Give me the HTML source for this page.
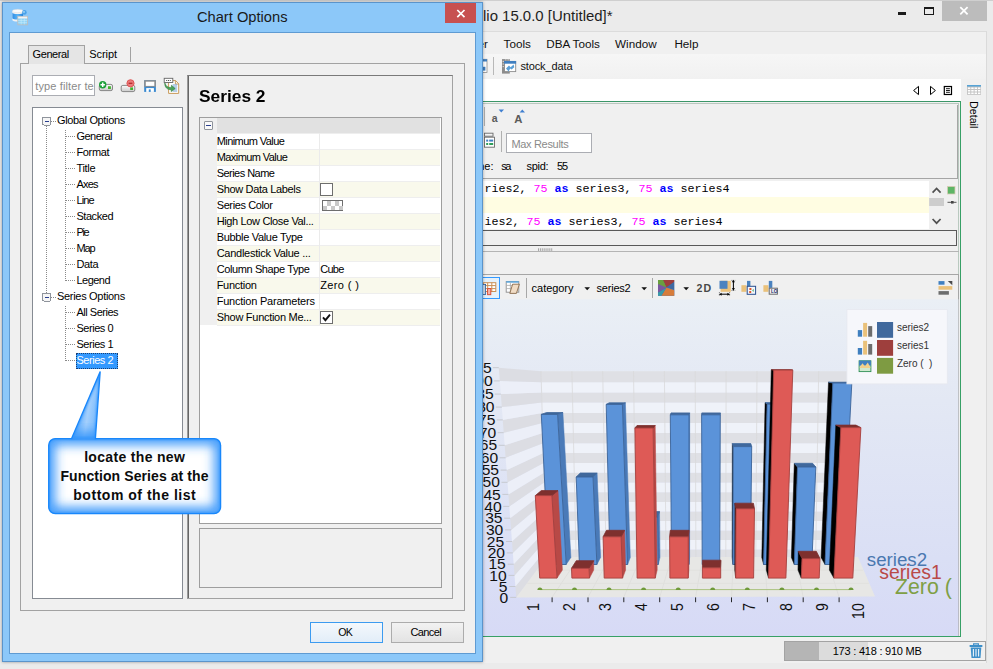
<!DOCTYPE html>
<html lang="en"><head><meta charset="utf-8"><title>Chart Options</title>
<style>
html,body{margin:0;padding:0;background:#ebebeb;}
body{width:993px;height:669px;overflow:hidden;position:relative;background:#ebebeb;font-family:"Liberation Sans",sans-serif;font-size:11px;}
div{position:absolute;box-sizing:border-box;}
svg{position:absolute;overflow:visible;}
.t{position:absolute;white-space:nowrap;line-height:1em;}
</style></head><body>
<!-- main application window -->
<div style="left:0px;top:0px;width:993px;height:669px;background:#ebebeb;"></div>
<div style="left:0px;top:0px;width:993px;height:1px;background:#cfcfcf;"></div>
<div style="left:483px;top:31px;width:503.5px;height:631.5px;background:#f0f0f0;border-top:1px solid #dcdcdc;border-right:1px solid #dadada;"></div>
<span class="t" style="left:483.00px;top:8.74px;font-size:14.95px;color:#1e1e1e;">lio 15.0.0 [Untitled]*</span>
<div style="left:942px;top:1.3px;width:44.7px;height:19.3px;background:#bcbcbc;"></div>
<svg style="left:942px;top:1px" width="45" height="20"><path d="M18.3 6.2 L25.6 13.4 M25.6 6.2 L18.3 13.4" stroke="#fff" stroke-width="1.8" fill="none"/></svg>
<div style="left:897.6px;top:12.4px;width:8.6px;height:2.3px;background:#1a1a1a;"></div>
<div style="left:924px;top:7.4px;width:10px;height:7.6px;border:1.2px solid #1a1a1a;border-top-width:2.6px;"></div>
<span class="t" style="left:477.50px;top:37.60px;font-size:11.7px;color:#111;">er</span>
<span class="t" style="left:503.60px;top:37.60px;font-size:11.7px;color:#111;">Tools</span>
<span class="t" style="left:546.20px;top:37.60px;font-size:11.7px;color:#111;">DBA Tools</span>
<span class="t" style="left:615.00px;top:37.60px;font-size:11.7px;color:#111;">Window</span>
<span class="t" style="left:674.40px;top:37.60px;font-size:11.7px;color:#111;">Help</span>
<div style="left:483px;top:54px;width:503px;height:25px;background:linear-gradient(#f6f6f6,#f1f1f1);"></div>
<svg style="left:476px;top:58px" width="12" height="16"><rect x="3" y="1.3" width="8" height="13.2" fill="#fff" stroke="#8d8d8d" stroke-width="0.8"/><rect x="3" y="1.2" width="8" height="2.3" fill="#3f7fc0"/><rect x="5" y="8.8" width="4.4" height="3.8" fill="#3f7fc0"/></svg>
<div style="left:493px;top:56.5px;width:1px;height:18.5px;background:#b8b8b8;"></div>
<svg style="left:501px;top:58px" width="17" height="17"><rect x="1" y="1.1" width="7.8" height="14.5" fill="#8c8c8c"/><path d="M1.6 3.4 H3 M1.6 6 H3 M1.6 8.6 H3" stroke="#d8d8d8" stroke-width="1"/><path d="M4 1.9 H4.9 M5.6 1.9 H6.5 M7.1 1.9 H8" stroke="#e0e0e0" stroke-width="0.9"/><rect x="3.5" y="3.4" width="11.2" height="10.2" fill="#fff" stroke="#8c8c8c" stroke-width="0.9"/><rect x="3.1" y="3" width="12" height="2.7" fill="#3f7fc0"/><path d="M5 10.6 L8 7.6 L9.6 9.2 L12.6 6.6 L13.3 9.2 L10.6 11.6 L9.2 10.4 L7.6 13.6 Z" fill="#5a9fd6"/></svg>
<span class="t" style="left:520.40px;top:60.69px;font-size:11px;color:#111;letter-spacing:-0.116px;">stock_data</span>
<div style="left:483px;top:79px;width:478px;height:22.5px;background:#fff;"></div>
<svg style="left:910px;top:84px" width="44" height="13"><path d="M8.5 2.4 V10.6 L3.6 6.5 Z" fill="#fff" stroke="#000" stroke-width="1"/><path d="M20.5 2.4 V10.6 L25.4 6.5 Z" fill="#fff" stroke="#000" stroke-width="1"/><rect x="34.3" y="2.5" width="7.2" height="8" fill="#fff" stroke="#000" stroke-width="1.2"/><path d="M36 4.7 H39.9 M36 6.5 H39.9 M36 8.3 H39.9" stroke="#000" stroke-width="0.9"/></svg>
<svg style="left:966px;top:84px" width="16" height="12"><rect x="1" y="1.1" width="14" height="9.7" fill="#c3c3c3"/><rect x="1" y="1.1" width="14" height="1.4" fill="#4a9fd8"/><rect x="1.90" y="3.50" width="2.4" height="1.5" fill="#fff"/><rect x="5.25" y="3.50" width="2.4" height="1.5" fill="#fff"/><rect x="8.60" y="3.50" width="2.4" height="1.5" fill="#fff"/><rect x="11.95" y="3.50" width="2.4" height="1.5" fill="#fff"/><rect x="1.90" y="6.00" width="2.4" height="1.5" fill="#fff"/><rect x="5.25" y="6.00" width="2.4" height="1.5" fill="#fff"/><rect x="8.60" y="6.00" width="2.4" height="1.5" fill="#fff"/><rect x="11.95" y="6.00" width="2.4" height="1.5" fill="#fff"/><rect x="1.90" y="8.50" width="2.4" height="1.5" fill="#fff"/><rect x="5.25" y="8.50" width="2.4" height="1.5" fill="#fff"/><rect x="8.60" y="8.50" width="2.4" height="1.5" fill="#fff"/><rect x="11.95" y="8.50" width="2.4" height="1.5" fill="#fff"/></svg>
<span class="t" style="left:979.2px;top:101.4px;font-size:10.7px;color:#000;transform-origin:0 0;transform:rotate(90deg);">Detail</span>
<div style="left:480px;top:101.3px;width:480.7px;height:536px;background:#f0f0f0;border:1.9px solid #3b9668;border-left:none;border-right:1.8px solid #37a066;border-bottom:1.8px solid #37a066;"></div>
<div style="left:480px;top:103.2px;width:478.5px;height:0.8px;background:#b9c8bf;"></div>
<div style="left:957.6px;top:103px;width:1px;height:533px;background:#b9c9bf;"></div>
<div style="left:484.3px;top:107px;width:1px;height:19px;background:#b0b0b0;"></div>
<span class="t" style="left:491.80px;top:112.71px;font-size:10.5px;color:#5a5a5a;font-weight:bold;">a</span>
<svg style="left:498px;top:109px" width="8" height="5"><path d="M0.6 0.6 L6 0.6 L3.3 3.6 Z" fill="#3f7fd0"/></svg>
<span class="t" style="left:514.20px;top:114.03px;font-size:11.3px;color:#5a5a5a;font-weight:bold;">A</span>
<svg style="left:519px;top:109px" width="8" height="5"><path d="M0.6 3.6 L6 3.6 L3.3 0.4 Z" fill="#3f7fd0"/></svg>
<svg style="left:476px;top:132px" width="20" height="17"><rect x="8.5" y="1.2" width="8.5" height="3" fill="#f4f4f4" stroke="#6a6a6a" stroke-width="0.9"/><rect x="8.5" y="5.2" width="10" height="10" fill="#fff" stroke="#6a6a6a" stroke-width="0.9"/><rect x="10.2" y="7.6" width="2" height="2" fill="#3f7fc0"/><rect x="13.2" y="7.6" width="4" height="2" fill="#3f7fc0"/><rect x="10.2" y="11" width="2" height="2" fill="#2e9d5a"/><rect x="13.2" y="11" width="4" height="2" fill="#2e9d5a"/></svg>
<div style="left:501px;top:131px;width:1px;height:21px;background:#b0b0b0;"></div>
<div style="left:506px;top:133px;width:86px;height:20px;background:#fff;border:1px solid #abadb3;"></div>
<span class="t" style="left:511.40px;top:139.29px;font-size:11px;color:#8a8a8a;letter-spacing:-0.31px;">Max Results</span>
<span class="t" style="left:478.30px;top:160.99px;font-size:11px;color:#000;letter-spacing:-0.045px;">ne:</span>
<span class="t" style="left:501.30px;top:160.99px;font-size:11px;color:#000;letter-spacing:-1.46px;">sa</span>
<span class="t" style="left:526.40px;top:160.99px;font-size:11px;color:#000;letter-spacing:-0.253px;">spid:</span>
<span class="t" style="left:557.00px;top:160.99px;font-size:11px;color:#000;letter-spacing:-1.01px;">55</span>
<div style="left:470px;top:105px;width:487.8px;height:74px;border:1px solid #a5a5a5;border-left:none;border-top:none;"></div>
<div style="left:483px;top:179px;width:474.5px;height:51.5px;background:#f0f0f0;"></div>
<div style="left:483px;top:180.7px;width:446px;height:48.6px;background:#fff;"></div>
<div style="left:483px;top:197px;width:445.6px;height:16px;background:#fffde2;"></div>
<span class="t" style="left:484.40px;top:184.04px;font-size:11.68px;color:#000;font-family:'Liberation Mono', monospace;">ries2,&nbsp;<span style="color:#ff00ff">75</span>&nbsp;<b style="color:#0000ff">as</b>&nbsp;series3,&nbsp;<span style="color:#ff00ff">75</span>&nbsp;<b style="color:#0000ff">as</b>&nbsp;series4</span>
<span class="t" style="left:484.40px;top:216.84px;font-size:11.68px;color:#000;font-family:'Liberation Mono', monospace;">ies2,&nbsp;<span style="color:#ff00ff">75</span>&nbsp;<b style="color:#0000ff">as</b>&nbsp;series3,&nbsp;<span style="color:#ff00ff">75</span>&nbsp;<b style="color:#0000ff">as</b>&nbsp;series4</span>
<svg style="left:929px;top:181px" width="30" height="48"><path d="M3.6 11.6 L7.6 7.4 L11.6 11.6" stroke="#505050" stroke-width="1.7" fill="none"/><path d="M3.6 38 L7.6 42.2 L11.6 38" stroke="#505050" stroke-width="1.7" fill="none"/><rect x="0.2" y="17" width="14.8" height="8" fill="#cdcdcd"/><rect x="18.4" y="5.4" width="7.6" height="7.6" fill="#5db565" stroke="#d9cdb8" stroke-width="0.8"/><path d="M18.5 21.3 H27.5" stroke="#444" stroke-width="0.9"/><rect x="22" y="20" width="2.6" height="2.6" fill="#444"/></svg>
<div style="left:470px;top:230px;width:486.8px;height:16px;border:1.4px solid #5a5a5a;border-left:none;"></div>
<div style="left:483px;top:251px;width:476px;height:1px;background:#b4b4b4;"></div>
<svg style="left:538px;top:248px" width="16" height="3"><rect x="0.0" y="0.3" width="0.9" height="2.6" fill="#9a9a9a"/><rect x="1.9" y="0.3" width="0.9" height="2.6" fill="#9a9a9a"/><rect x="3.8" y="0.3" width="0.9" height="2.6" fill="#9a9a9a"/><rect x="5.7" y="0.3" width="0.9" height="2.6" fill="#9a9a9a"/><rect x="7.6" y="0.3" width="0.9" height="2.6" fill="#9a9a9a"/><rect x="9.5" y="0.3" width="0.9" height="2.6" fill="#9a9a9a"/><rect x="11.4" y="0.3" width="0.9" height="2.6" fill="#9a9a9a"/><rect x="13.3" y="0.3" width="0.9" height="2.6" fill="#9a9a9a"/></svg>
<div style="left:470px;top:274px;width:489px;height:362px;border:1px solid #a6a6a6;border-left:none;border-bottom:none;background:#f0f0f0;"></div>
<div style="left:478px;top:277px;width:22px;height:22px;background:#e5f1fb;border:1px solid #3399ff;"></div>
<svg style="left:478px;top:278px" width="22" height="20"><rect x="5.6" y="4.7" width="12.2" height="8.8" fill="#fff" stroke="#c98f55" stroke-width="1"/><path d="M5.6 7.6 H17.8 M5.6 10.6 H17.8 M9.7 4.7 V13.5 M13.8 4.7 V13.5" stroke="#c98f55" stroke-width="1"/><rect x="4" y="6.5" width="3.6" height="10" fill="#c9d9ea" stroke="#2a5f9f" stroke-width="0.8"/><rect x="9.6" y="10.6" width="3.2" height="6.1" fill="#f6b5aa" stroke="#d9452f" stroke-width="0.9"/></svg>
<svg style="left:505px;top:280px" width="16" height="16"><rect x="1.2" y="1.6" width="12.6" height="10.6" fill="#fff" stroke="#8c8c8c" stroke-width="0.9"/><rect x="1.2" y="1.2" width="12.6" height="1.5" fill="#5aa7de"/><path d="M1.2 5.4 H8 M1.2 8.6 H7 M5.4 2.6 V12" stroke="#a9a9a9" stroke-width="0.8"/><path d="M7.6 4.2 L14.4 4.2 L11.4 13.4 L4.8 13.4 Z" fill="#f1dcc4" stroke="#8a6a48" stroke-width="0.9"/></svg>
<div style="left:526px;top:278px;width:1px;height:20px;background:#a8a8a8;"></div>
<span class="t" style="left:531.60px;top:283.09px;font-size:11px;color:#000;letter-spacing:-0.041px;">category</span>
<svg style="left:584px;top:287px" width="7" height="4"><path d="M0.4 0.3 H6 L3.2 3.2 Z" fill="#111"/></svg>
<span class="t" style="left:596.50px;top:283.09px;font-size:11px;color:#000;letter-spacing:-0.212px;">series2</span>
<svg style="left:640.5px;top:287px" width="7" height="4"><path d="M0.4 0.3 H6 L3.2 3.2 Z" fill="#111"/></svg>
<div style="left:652px;top:278px;width:1px;height:20px;background:#a8a8a8;"></div>
<svg style="left:657.8px;top:280px" width="17" height="16"><rect x="0" y="0" width="16.2" height="15.8" fill="#3f6aa3"/><path d="M0 0 H5 L8.4 7.6 Z" fill="#6a9f3e"/><path d="M5 0 H16.2 V2 L8.4 7.6 Z" fill="#9e3e3c"/><path d="M16.2 2 V10 L8.4 7.6 Z" fill="#3f6aa3"/><path d="M16.2 10 V15.8 L8.4 7.6 Z" fill="#4a86c8"/><path d="M16.2 10.2 V15.8 H3.4 L8.4 7.6 Z" fill="#d77c3a"/><path d="M3.4 15.8 H0 V12.6 L8.4 7.6 Z" fill="#3a9aa8"/><path d="M0 12.6 V0 L8.4 7.6 Z" fill="#7a57a0"/><path d="M0 0 H5 L8.4 7.6 L0 4 Z" fill="#6a9f3e"/></svg>
<svg style="left:683.4px;top:287px" width="7" height="4"><path d="M0.4 0.3 H6 L3.2 3.2 Z" fill="#111"/></svg>
<span class="t" style="left:696.60px;top:282.93px;font-size:10.6px;color:#484848;font-weight:bold;letter-spacing:0.9px;">2D</span>
<svg style="left:718.5px;top:280px" width="17" height="17"><rect x="1.6" y="0.8" width="10.2" height="11" fill="#eac17a"/><rect x="0.5" y="0.8" width="8" height="8" fill="#4a82bf"/><path d="M14.4 1.2 V9.4" stroke="#000" stroke-width="1"/><path d="M14.4 0 L16 2.3 H12.8 Z M14.4 10.6 L16 8.3 H12.8 Z" fill="#000"/><path d="M12.6 0.4 H16.2 M12.6 10.4 H16.2" stroke="#000" stroke-width="0.7" stroke-dasharray="0.8 0.8"/><path d="M1.6 14.2 H9.4" stroke="#000" stroke-width="1"/><path d="M0.2 14.2 L2.6 12.7 V15.7 Z M10.8 14.2 L8.4 12.7 V15.7 Z" fill="#000"/><path d="M0.4 12.4 V16 M10.6 12.4 V16" stroke="#000" stroke-width="0.7" stroke-dasharray="0.8 0.8"/></svg>
<svg style="left:740.5px;top:280px" width="16" height="16"><rect x="0.4" y="5.2" width="5" height="6.6" fill="#eac17a"/><rect x="6" y="0.9" width="3.4" height="5.5" fill="#4a82bf"/><rect x="6.2" y="6.3" width="8.4" height="8" fill="#f4f6fb" stroke="#2a4f8f" stroke-width="1"/><rect x="8.4" y="8" width="2" height="2" fill="#e2582c"/><rect x="8.2" y="11" width="2" height="2" fill="#e2582c"/><path d="M13 8.8 V12 L10.8 10.4 Z" fill="#7cc79a"/></svg>
<svg style="left:762.5px;top:280px" width="16" height="16"><rect x="0.4" y="5.2" width="5" height="6.6" fill="#eac17a"/><rect x="5.8" y="0.9" width="3.5" height="7" fill="#4a82bf"/><rect x="6.2" y="8.2" width="8.2" height="6" fill="#eef1f6" stroke="#6b6b6b" stroke-width="1"/><text x="7.9" y="13.1" font-family="Liberation Sans, sans-serif" font-size="4.6" font-weight="bold" fill="#1a2f66">LO</text></svg>
<svg style="left:937.5px;top:280px" width="16" height="16"><rect x="0.5" y="1.1" width="6" height="3.6" fill="#3f7fc0"/><rect x="0.5" y="6.1" width="13.8" height="3.6" fill="#eac17a"/><rect x="0.5" y="11.1" width="10.4" height="3.6" fill="#6d6d6d"/><path d="M9.8 1.1 H14.3 V5.2 Z" fill="#4a4a4a"/></svg>
<svg style="left:0;top:0" width="993" height="669" viewBox="0 0 993 669"><defs><linearGradient id="chbg" x1="0" y1="0" x2="0" y2="1"><stop offset="0" stop-color="#eaeff5"/><stop offset="0.3" stop-color="#e3e8f4"/><stop offset="0.77" stop-color="#dadff5"/><stop offset="1" stop-color="#d7daf6"/></linearGradient><clipPath id="chclip"><rect x="470" y="299.3" width="488.4" height="336.6"/></clipPath></defs><g clip-path="url(#chclip)"><rect x="470" y="299" width="489" height="337" fill="url(#chbg)"/><polygon points="546.3,559.0 845.5,559.0 845.7,549.5 546.0,549.5" fill="#dfe0e5"/><polygon points="516.2,597.4 546.3,559.0 546.0,549.5 515.4,586.5" fill="#dcdde3"/><polygon points="546.0,549.5 845.7,549.5 845.9,540.0 545.7,540.0" fill="#eff2f9"/><polygon points="515.4,586.5 546.0,549.5 545.7,540.0 514.5,575.4" fill="#eceff8"/><polygon points="545.7,540.0 845.9,540.0 846.1,530.5 545.5,530.5" fill="#dfe0e5"/><polygon points="514.5,575.4 545.7,540.0 545.5,530.5 513.7,564.2" fill="#dcdde3"/><polygon points="545.5,530.5 846.1,530.5 846.3,521.0 545.2,521.0" fill="#eff2f9"/><polygon points="513.7,564.2 545.5,530.5 545.2,521.0 512.8,552.9" fill="#eceff8"/><polygon points="545.2,521.0 846.3,521.0 846.5,511.4 544.9,511.4" fill="#dfe0e5"/><polygon points="512.8,552.9 545.2,521.0 544.9,511.4 512.0,541.5" fill="#dcdde3"/><polygon points="544.9,511.4 846.5,511.4 846.7,501.9 544.7,501.9" fill="#eff2f9"/><polygon points="512.0,541.5 544.9,511.4 544.7,501.9 511.1,529.9" fill="#eceff8"/><polygon points="544.7,501.9 846.7,501.9 846.9,492.2 544.4,492.2" fill="#dfe0e5"/><polygon points="511.1,529.9 544.7,501.9 544.4,492.2 510.2,518.2" fill="#dcdde3"/><polygon points="544.4,492.2 846.9,492.2 847.1,482.5 544.1,482.5" fill="#eff2f9"/><polygon points="510.2,518.2 544.4,492.2 544.1,482.5 509.3,506.4" fill="#eceff8"/><polygon points="544.1,482.5 847.1,482.5 847.3,472.8 543.9,472.8" fill="#dfe0e5"/><polygon points="509.3,506.4 544.1,482.5 543.9,472.8 508.4,494.4" fill="#dcdde3"/><polygon points="543.9,472.8 847.3,472.8 847.6,463.0 543.6,463.0" fill="#eff2f9"/><polygon points="508.4,494.4 543.9,472.8 543.6,463.0 507.5,482.3" fill="#eceff8"/><polygon points="543.6,463.0 847.6,463.0 847.8,452.9 543.3,452.9" fill="#dfe0e5"/><polygon points="507.5,482.3 543.6,463.0 543.3,452.9 506.6,470.1" fill="#dcdde3"/><polygon points="543.3,452.9 847.8,452.9 848.0,443.2 543.0,443.2" fill="#eff2f9"/><polygon points="506.6,470.1 543.3,452.9 543.0,443.2 505.6,457.8" fill="#eceff8"/><polygon points="543.0,443.2 848.0,443.2 848.2,433.1 542.7,433.1" fill="#dfe0e5"/><polygon points="505.6,457.8 543.0,443.2 542.7,433.1 504.7,445.3" fill="#dcdde3"/><polygon points="542.7,433.1 848.2,433.1 848.4,423.0 542.5,423.0" fill="#eff2f9"/><polygon points="504.7,445.3 542.7,433.1 542.5,423.0 503.7,432.7" fill="#eceff8"/><polygon points="542.5,423.0 848.4,423.0 848.6,412.9 542.2,412.9" fill="#dfe0e5"/><polygon points="503.7,432.7 542.5,423.0 542.2,412.9 502.8,419.9" fill="#dcdde3"/><polygon points="542.2,412.9 848.6,412.9 848.8,402.6 541.9,402.6" fill="#eff2f9"/><polygon points="502.8,419.9 542.2,412.9 541.9,402.6 501.8,407.1" fill="#eceff8"/><polygon points="541.9,402.6 848.8,402.6 849.0,392.5 541.6,392.5" fill="#dfe0e5"/><polygon points="501.8,407.1 541.9,402.6 541.6,392.5 500.8,394.1" fill="#dcdde3"/><polygon points="541.6,392.5 849.0,392.5 849.3,382.3 541.3,382.3" fill="#eff2f9"/><polygon points="500.8,394.1 541.6,392.5 541.3,382.3 499.8,380.9" fill="#eceff8"/><polygon points="541.3,382.3 849.3,382.3 849.5,371.2 541.0,371.2" fill="#dfe0e5"/><polygon points="499.8,380.9 541.3,382.3 541.0,371.2 498.8,367.7" fill="#dcdde3"/><path d="M541.0 371.2 L546.3 559" stroke="#d9d9da" stroke-width="0.8" fill="none"/><path d="M571.9 371.2 L576.2 559" stroke="#d9d9da" stroke-width="0.8" fill="none"/><path d="M602.7 371.2 L606.1 559" stroke="#d9d9da" stroke-width="0.8" fill="none"/><path d="M633.5 371.2 L636.1 559" stroke="#d9d9da" stroke-width="0.8" fill="none"/><path d="M664.4 371.2 L666.0 559" stroke="#d9d9da" stroke-width="0.8" fill="none"/><path d="M695.2 371.2 L695.9 559" stroke="#d9d9da" stroke-width="0.8" fill="none"/><path d="M726.1 371.2 L725.8 559" stroke="#d9d9da" stroke-width="0.8" fill="none"/><path d="M757.0 371.2 L755.8 559" stroke="#d9d9da" stroke-width="0.8" fill="none"/><path d="M787.8 371.2 L785.7 559" stroke="#d9d9da" stroke-width="0.8" fill="none"/><path d="M818.7 371.2 L815.6 559" stroke="#d9d9da" stroke-width="0.8" fill="none"/><path d="M849.5 371.2 L845.5 559" stroke="#d9d9da" stroke-width="0.8" fill="none"/><polygon points="516.2,597.4 546.6,557.0 858.0,557.0 875.0,596.6" fill="#e7e7e5"/><path d="M552.1 597.2 L577.7 558.8" stroke="#dddddb" stroke-width="0.8"/><path d="M588.0 597.2 L608.9 558.8" stroke="#dddddb" stroke-width="0.8"/><path d="M623.8 597.2 L640.0 558.8" stroke="#dddddb" stroke-width="0.8"/><path d="M659.7 597.2 L671.2 558.8" stroke="#dddddb" stroke-width="0.8"/><path d="M695.6 597.2 L702.3 558.8" stroke="#dddddb" stroke-width="0.8"/><path d="M731.5 597.2 L733.4 558.8" stroke="#dddddb" stroke-width="0.8"/><path d="M767.4 597.2 L764.6 558.8" stroke="#dddddb" stroke-width="0.8"/><path d="M803.2 597.2 L795.7 558.8" stroke="#dddddb" stroke-width="0.8"/><path d="M839.1 597.2 L826.9 558.8" stroke="#dddddb" stroke-width="0.8"/><path d="M527.1 583.4 H868.9" stroke="#dfdfdd" stroke-width="0.7"/><path d="M537.5 570.2 H863.1" stroke="#dfdfdd" stroke-width="0.7"/><path d="M510.2 597.4 H516.2" stroke="#c4c6cc" stroke-width="0.9"/><path d="M509.4 586.5 H515.4" stroke="#c4c6cc" stroke-width="0.9"/><path d="M508.5 575.4 H514.5" stroke="#c4c6cc" stroke-width="0.9"/><path d="M507.7 564.2 H513.7" stroke="#c4c6cc" stroke-width="0.9"/><path d="M506.8 552.9 H512.8" stroke="#c4c6cc" stroke-width="0.9"/><path d="M506.0 541.5 H512.0" stroke="#c4c6cc" stroke-width="0.9"/><path d="M505.1 529.9 H511.1" stroke="#c4c6cc" stroke-width="0.9"/><path d="M504.2 518.2 H510.2" stroke="#c4c6cc" stroke-width="0.9"/><path d="M503.3 506.4 H509.3" stroke="#c4c6cc" stroke-width="0.9"/><path d="M502.4 494.4 H508.4" stroke="#c4c6cc" stroke-width="0.9"/><path d="M501.5 482.3 H507.5" stroke="#c4c6cc" stroke-width="0.9"/><path d="M500.6 470.1 H506.6" stroke="#c4c6cc" stroke-width="0.9"/><path d="M499.6 457.8 H505.6" stroke="#c4c6cc" stroke-width="0.9"/><path d="M498.7 445.3 H504.7" stroke="#c4c6cc" stroke-width="0.9"/><path d="M497.7 432.7 H503.7" stroke="#c4c6cc" stroke-width="0.9"/><path d="M496.8 419.9 H502.8" stroke="#c4c6cc" stroke-width="0.9"/><path d="M495.8 407.1 H501.8" stroke="#c4c6cc" stroke-width="0.9"/><path d="M494.8 394.1 H500.8" stroke="#c4c6cc" stroke-width="0.9"/><path d="M493.8 380.9 H499.8" stroke="#c4c6cc" stroke-width="0.9"/><path d="M492.8 367.7 H498.8" stroke="#c4c6cc" stroke-width="0.9"/><text transform="translate(508.2,602.5) scale(1.1,1)" text-anchor="end" font-family="Liberation Sans, sans-serif" font-size="14.2" fill="#111">0</text><text transform="translate(507.4,591.6) scale(1.1,1)" text-anchor="end" font-family="Liberation Sans, sans-serif" font-size="14.2" fill="#111">5</text><text transform="translate(506.6,580.5) scale(1.1,1)" text-anchor="end" font-family="Liberation Sans, sans-serif" font-size="14.2" fill="#111">10</text><text transform="translate(505.8,569.4) scale(1.1,1)" text-anchor="end" font-family="Liberation Sans, sans-serif" font-size="14.2" fill="#111">15</text><text transform="translate(505.0,558.0) scale(1.1,1)" text-anchor="end" font-family="Liberation Sans, sans-serif" font-size="14.2" fill="#111">20</text><text transform="translate(504.2,546.6) scale(1.1,1)" text-anchor="end" font-family="Liberation Sans, sans-serif" font-size="14.2" fill="#111">25</text><text transform="translate(503.3,535.0) scale(1.1,1)" text-anchor="end" font-family="Liberation Sans, sans-serif" font-size="14.2" fill="#111">30</text><text transform="translate(502.5,523.3) scale(1.1,1)" text-anchor="end" font-family="Liberation Sans, sans-serif" font-size="14.2" fill="#111">35</text><text transform="translate(501.6,511.5) scale(1.1,1)" text-anchor="end" font-family="Liberation Sans, sans-serif" font-size="14.2" fill="#111">40</text><text transform="translate(500.8,499.5) scale(1.1,1)" text-anchor="end" font-family="Liberation Sans, sans-serif" font-size="14.2" fill="#111">45</text><text transform="translate(499.9,487.4) scale(1.1,1)" text-anchor="end" font-family="Liberation Sans, sans-serif" font-size="14.2" fill="#111">50</text><text transform="translate(499.0,475.2) scale(1.1,1)" text-anchor="end" font-family="Liberation Sans, sans-serif" font-size="14.2" fill="#111">55</text><text transform="translate(498.1,462.9) scale(1.1,1)" text-anchor="end" font-family="Liberation Sans, sans-serif" font-size="14.2" fill="#111">60</text><text transform="translate(497.2,450.4) scale(1.1,1)" text-anchor="end" font-family="Liberation Sans, sans-serif" font-size="14.2" fill="#111">65</text><text transform="translate(496.3,437.8) scale(1.1,1)" text-anchor="end" font-family="Liberation Sans, sans-serif" font-size="14.2" fill="#111">70</text><text transform="translate(495.4,425.0) scale(1.1,1)" text-anchor="end" font-family="Liberation Sans, sans-serif" font-size="14.2" fill="#111">75</text><text transform="translate(494.5,412.2) scale(1.1,1)" text-anchor="end" font-family="Liberation Sans, sans-serif" font-size="14.2" fill="#111">80</text><text transform="translate(493.6,399.2) scale(1.1,1)" text-anchor="end" font-family="Liberation Sans, sans-serif" font-size="14.2" fill="#111">85</text><text transform="translate(492.6,386.1) scale(1.1,1)" text-anchor="end" font-family="Liberation Sans, sans-serif" font-size="14.2" fill="#111">90</text><text transform="translate(491.7,372.8) scale(1.1,1)" text-anchor="end" font-family="Liberation Sans, sans-serif" font-size="14.2" fill="#111">95</text><polygon points="566.2,564.5 570.9,557.5 562.9,412.5 557.6,414.4" fill="#4a7ab8" stroke="#4a7ab8" stroke-width="0.5"/><polygon points="541.3,414.4 557.6,414.4 562.9,412.5 546.6,412.5" fill="#40689c" stroke="#40689c" stroke-width="0.8" stroke-linejoin="round"/><polygon points="548.7,564.5 566.2,564.5 557.6,414.4 541.3,414.4" fill="#5b93d9" stroke="#3b6399" stroke-width="0.9" stroke-linejoin="round"/><polygon points="596.9,564.5 600.6,557.5 597.1,473.0 593.0,477.0" fill="#4a7ab8" stroke="#4a7ab8" stroke-width="0.5"/><polygon points="576.2,477.0 593.0,477.0 597.1,473.0 580.3,473.0" fill="#40689c" stroke="#40689c" stroke-width="0.8" stroke-linejoin="round"/><polygon points="579.4,564.5 596.9,564.5 593.0,477.0 576.2,477.0" fill="#5b93d9" stroke="#3b6399" stroke-width="0.9" stroke-linejoin="round"/><polygon points="627.6,564.5 630.3,557.5 625.4,402.8 622.4,404.4" fill="#4a7ab8" stroke="#4a7ab8" stroke-width="0.5"/><polygon points="606.2,404.4 622.4,404.4 625.4,402.8 609.2,402.8" fill="#40689c" stroke="#40689c" stroke-width="0.8" stroke-linejoin="round"/><polygon points="610.1,564.5 627.6,564.5 622.4,404.4 606.2,404.4" fill="#5b93d9" stroke="#3b6399" stroke-width="0.9" stroke-linejoin="round"/><polygon points="658.3,564.5 660.0,557.5 659.5,511.6 657.6,517.0" fill="#4a7ab8" stroke="#4a7ab8" stroke-width="0.5"/><polygon points="640.1,517.0 657.6,517.0 659.5,511.6 642.0,511.6" fill="#40689c" stroke="#40689c" stroke-width="0.8" stroke-linejoin="round"/><polygon points="640.8,564.5 658.3,564.5 657.6,517.0 640.1,517.0" fill="#5b93d9" stroke="#3b6399" stroke-width="0.9" stroke-linejoin="round"/><polygon points="689.0,564.5 689.6,557.5 689.7,412.9 689.0,414.8" fill="#4a7ab8" stroke="#4a7ab8" stroke-width="0.5"/><polygon points="670.3,414.8 689.0,414.8 689.7,412.9 671.0,412.9" fill="#40689c" stroke="#40689c" stroke-width="0.8" stroke-linejoin="round"/><polygon points="671.5,564.5 689.0,564.5 689.0,414.8 670.3,414.8" fill="#5b93d9" stroke="#3b6399" stroke-width="0.9" stroke-linejoin="round"/><polygon points="701.6,414.8 720.3,414.8 720.5,412.9 701.8,412.9" fill="#40689c" stroke="#40689c" stroke-width="0.8" stroke-linejoin="round"/><polygon points="702.2,564.5 719.7,564.5 720.3,414.8 701.6,414.8" fill="#5b93d9" stroke="#3b6399" stroke-width="0.9" stroke-linejoin="round"/><polygon points="732.9,564.5 732.1,557.5 732.3,443.6 733.2,446.6" fill="#182739" stroke="#182739" stroke-width="0.5"/><polygon points="733.2,446.6 751.7,446.6 750.8,443.6 732.3,443.6" fill="#40689c" stroke="#40689c" stroke-width="0.8" stroke-linejoin="round"/><polygon points="732.9,564.5 750.4,564.5 751.7,446.6 733.2,446.6" fill="#5b93d9" stroke="#3b6399" stroke-width="0.9" stroke-linejoin="round"/><polygon points="763.6,564.5 761.8,557.5 765.1,402.6 767.1,404.2" fill="#000000" stroke="#000000" stroke-width="0.5"/><polygon points="767.1,404.2 785.9,404.2 783.9,402.6 765.1,402.6" fill="#40689c" stroke="#40689c" stroke-width="0.8" stroke-linejoin="round"/><polygon points="763.6,564.5 781.1,564.5 785.9,404.2 767.1,404.2" fill="#5b93d9" stroke="#3b6399" stroke-width="0.9" stroke-linejoin="round"/><polygon points="794.3,564.5 791.4,557.5 794.3,463.3 797.5,467.0" fill="#000000" stroke="#000000" stroke-width="0.5"/><polygon points="797.5,467.0 815.8,467.0 812.6,463.3 794.3,463.3" fill="#40689c" stroke="#40689c" stroke-width="0.8" stroke-linejoin="round"/><polygon points="794.3,564.5 811.8,564.5 815.8,467.0 797.5,467.0" fill="#5b93d9" stroke="#3b6399" stroke-width="0.9" stroke-linejoin="round"/><polygon points="825.0,564.5 821.1,557.5 828.5,382.2 832.8,383.0" fill="#000000" stroke="#000000" stroke-width="0.5"/><polygon points="832.8,383.0 851.8,383.0 847.4,382.2 828.5,382.2" fill="#40689c" stroke="#40689c" stroke-width="0.8" stroke-linejoin="round"/><polygon points="825.0,564.5 842.5,564.5 851.8,383.0 832.8,383.0" fill="#5b93d9" stroke="#3b6399" stroke-width="0.9" stroke-linejoin="round"/><polygon points="557.0,578.1 562.4,570.1 558.0,490.6 551.9,495.6" fill="#b84946" stroke="#b84946" stroke-width="0.5"/><polygon points="535.3,495.6 551.9,495.6 558.0,490.6 541.3,490.6" fill="#7e302e" stroke="#7e302e" stroke-width="0.8" stroke-linejoin="round"/><polygon points="539.7,578.1 557.0,578.1 551.9,495.6 535.3,495.6" fill="#de5a56" stroke="#a5403d" stroke-width="0.9" stroke-linejoin="round"/><polygon points="589.5,578.1 593.7,570.1 593.8,560.7 589.0,568.3" fill="#b84946" stroke="#b84946" stroke-width="0.5"/><polygon points="571.5,568.3 589.0,568.3 593.8,560.7 576.3,560.7" fill="#7e302e" stroke="#7e302e" stroke-width="0.8" stroke-linejoin="round"/><polygon points="571.9,578.1 589.5,578.1 589.0,568.3 571.5,568.3" fill="#de5a56" stroke="#a5403d" stroke-width="0.9" stroke-linejoin="round"/><polygon points="622.6,578.1 625.6,570.1 624.6,530.3 621.1,536.8" fill="#b84946" stroke="#b84946" stroke-width="0.5"/><polygon points="603.1,536.8 621.1,536.8 624.6,530.3 606.5,530.3" fill="#7e302e" stroke="#7e302e" stroke-width="0.8" stroke-linejoin="round"/><polygon points="604.2,578.1 622.6,578.1 621.1,536.8 603.1,536.8" fill="#de5a56" stroke="#a5403d" stroke-width="0.9" stroke-linejoin="round"/><polygon points="655.3,578.1 657.2,570.1 655.2,425.5 653.1,428.0" fill="#b84946" stroke="#b84946" stroke-width="0.5"/><polygon points="634.9,428.0 653.1,428.0 655.2,425.5 637.0,425.5" fill="#7e302e" stroke="#7e302e" stroke-width="0.8" stroke-linejoin="round"/><polygon points="637.1,578.1 655.3,578.1 653.1,428.0 634.9,428.0" fill="#de5a56" stroke="#a5403d" stroke-width="0.9" stroke-linejoin="round"/><polygon points="688.2,578.1 688.9,570.1 689.0,530.3 688.2,536.8" fill="#b84946" stroke="#b84946" stroke-width="0.5"/><polygon points="669.6,536.8 688.2,536.8 689.0,530.3 670.3,530.3" fill="#7e302e" stroke="#7e302e" stroke-width="0.8" stroke-linejoin="round"/><polygon points="669.9,578.1 688.2,578.1 688.2,536.8 669.6,536.8" fill="#de5a56" stroke="#a5403d" stroke-width="0.9" stroke-linejoin="round"/><polygon points="702.4,567.8 720.7,567.8 721.0,560.2 702.6,560.2" fill="#7e302e" stroke="#7e302e" stroke-width="0.8" stroke-linejoin="round"/><polygon points="702.4,578.1 720.7,578.1 720.7,567.8 702.4,567.8" fill="#de5a56" stroke="#a5403d" stroke-width="0.9" stroke-linejoin="round"/><polygon points="735.7,578.1 734.7,570.1 734.9,503.2 736.0,508.7" fill="#2e1212" stroke="#2e1212" stroke-width="0.5"/><polygon points="736.0,508.7 754.5,508.7 753.4,503.2 734.9,503.2" fill="#7e302e" stroke="#7e302e" stroke-width="0.8" stroke-linejoin="round"/><polygon points="735.7,578.1 753.6,578.1 754.5,508.7 736.0,508.7" fill="#de5a56" stroke="#a5403d" stroke-width="0.9" stroke-linejoin="round"/><polygon points="768.5,578.1 766.3,570.1 771.3,369.7 773.7,370.1" fill="#000000" stroke="#000000" stroke-width="0.5"/><polygon points="773.7,370.1 792.8,370.1 790.4,369.7 771.3,369.7" fill="#7e302e" stroke="#7e302e" stroke-width="0.8" stroke-linejoin="round"/><polygon points="768.5,578.1 785.9,578.1 792.8,370.1 773.7,370.1" fill="#de5a56" stroke="#a5403d" stroke-width="0.9" stroke-linejoin="round"/><polygon points="801.3,578.1 798.0,570.1 798.3,551.3 802.0,558.6" fill="#000000" stroke="#000000" stroke-width="0.5"/><polygon points="802.0,558.6 820.0,558.6 816.3,551.3 798.3,551.3" fill="#7e302e" stroke="#7e302e" stroke-width="0.8" stroke-linejoin="round"/><polygon points="801.3,578.1 819.2,578.1 820.0,558.6 802.0,558.6" fill="#de5a56" stroke="#a5403d" stroke-width="0.9" stroke-linejoin="round"/><polygon points="833.9,578.1 829.4,570.1 835.8,425.1 840.8,427.6" fill="#000000" stroke="#000000" stroke-width="0.5"/><polygon points="840.8,427.6 860.9,427.6 855.9,425.1 835.8,425.1" fill="#7e302e" stroke="#7e302e" stroke-width="0.8" stroke-linejoin="round"/><polygon points="833.9,578.1 852.8,578.1 860.9,427.6 840.8,427.6" fill="#de5a56" stroke="#a5403d" stroke-width="0.9" stroke-linejoin="round"/><path d="M539.9 589.6 H851" stroke="#a3bd74" stroke-width="0.9"/><path d="M537.4 590 A2.5 2.6 0 0 1 542.4 590 Z" fill="#6f9a3a"/><path d="M572.0 590 A2.5 2.6 0 0 1 577.0 590 Z" fill="#6f9a3a"/><path d="M606.5 590 A2.5 2.6 0 0 1 611.5 590 Z" fill="#6f9a3a"/><path d="M641.1 590 A2.5 2.6 0 0 1 646.1 590 Z" fill="#6f9a3a"/><path d="M675.7 590 A2.5 2.6 0 0 1 680.7 590 Z" fill="#6f9a3a"/><path d="M710.2 590 A2.5 2.6 0 0 1 715.2 590 Z" fill="#6f9a3a"/><path d="M744.8 590 A2.5 2.6 0 0 1 749.8 590 Z" fill="#6f9a3a"/><path d="M779.4 590 A2.5 2.6 0 0 1 784.4 590 Z" fill="#6f9a3a"/><path d="M814.0 590 A2.5 2.6 0 0 1 819.0 590 Z" fill="#6f9a3a"/><path d="M848.5 590 A2.5 2.6 0 0 1 853.5 590 Z" fill="#6f9a3a"/><path d="M552.1 597.4 V602.2" stroke="#111" stroke-width="0.9"/><path d="M588.0 597.4 V602.2" stroke="#111" stroke-width="0.9"/><path d="M623.8 597.4 V602.2" stroke="#111" stroke-width="0.9"/><path d="M659.7 597.4 V602.2" stroke="#111" stroke-width="0.9"/><path d="M695.6 597.4 V602.2" stroke="#111" stroke-width="0.9"/><path d="M731.5 597.4 V602.2" stroke="#111" stroke-width="0.9"/><path d="M767.4 597.4 V602.2" stroke="#111" stroke-width="0.9"/><path d="M803.2 597.4 V602.2" stroke="#111" stroke-width="0.9"/><path d="M839.1 597.4 V602.2" stroke="#111" stroke-width="0.9"/><text transform="translate(539.0,603.2) rotate(-90) scale(1,1.15)" text-anchor="end" font-family="Liberation Sans, sans-serif" font-size="14.2" fill="#111">1</text><text transform="translate(575.1,603.2) rotate(-90) scale(1,1.15)" text-anchor="end" font-family="Liberation Sans, sans-serif" font-size="14.2" fill="#111">2</text><text transform="translate(611.1,603.2) rotate(-90) scale(1,1.15)" text-anchor="end" font-family="Liberation Sans, sans-serif" font-size="14.2" fill="#111">3</text><text transform="translate(647.2,603.2) rotate(-90) scale(1,1.15)" text-anchor="end" font-family="Liberation Sans, sans-serif" font-size="14.2" fill="#111">4</text><text transform="translate(683.3,603.2) rotate(-90) scale(1,1.15)" text-anchor="end" font-family="Liberation Sans, sans-serif" font-size="14.2" fill="#111">5</text><text transform="translate(719.4,603.2) rotate(-90) scale(1,1.15)" text-anchor="end" font-family="Liberation Sans, sans-serif" font-size="14.2" fill="#111">6</text><text transform="translate(755.4,603.2) rotate(-90) scale(1,1.15)" text-anchor="end" font-family="Liberation Sans, sans-serif" font-size="14.2" fill="#111">7</text><text transform="translate(791.5,603.2) rotate(-90) scale(1,1.15)" text-anchor="end" font-family="Liberation Sans, sans-serif" font-size="14.2" fill="#111">8</text><text transform="translate(827.6,603.2) rotate(-90) scale(1,1.15)" text-anchor="end" font-family="Liberation Sans, sans-serif" font-size="14.2" fill="#111">9</text><text transform="translate(863.6,603.2) rotate(-90) scale(1,1.15)" text-anchor="end" font-family="Liberation Sans, sans-serif" font-size="14.2" fill="#111">10</text><text x="866.8" y="565.6" font-family="Liberation Sans, sans-serif" font-size="18.7" fill="#4a78b0">series2</text><text x="879.2" y="578.8" font-family="Liberation Sans, sans-serif" font-size="19.4" fill="#b94a48">series1</text><text x="895" y="594.4" font-family="Liberation Sans, sans-serif" font-size="21.3" fill="#7f9f45">Zero (</text><rect x="846.9" y="309.6" width="100.4" height="74.3" fill="#f6f7fb" stroke="#e6e8ef" stroke-width="0.8"/><rect x="857.8" y="330.09999999999997" width="4.3" height="6.6" fill="#3f7fbf"/><rect x="863.0999999999999" y="322.9" width="4" height="13.8" fill="#eac17a"/><rect x="868.1999999999999" y="326.09999999999997" width="4" height="10.6" fill="#6d6d6d"/><rect x="857.8" y="348.0" width="4.3" height="6.6" fill="#3f7fbf"/><rect x="863.0999999999999" y="340.8" width="4" height="13.8" fill="#eac17a"/><rect x="868.1999999999999" y="344.0" width="4" height="10.6" fill="#6d6d6d"/><rect x="859.1" y="360.8" width="11.8" height="10.8" fill="#cfe9cf" stroke="#2e8f55" stroke-width="0.9"/><rect x="859.1" y="360.6" width="11.8" height="5" fill="#3f7fbf"/><path d="M859.4 368 L862.4 363.2 L865 366.2 L867.8 362.6 L870.6 368 Z" fill="#f2d08a"/><rect x="877" y="322" width="16.1" height="15.8" fill="#40699d"/><rect x="877" y="340" width="16.1" height="15.8" fill="#9e3f3d"/><rect x="877" y="357.9" width="16.1" height="15.8" fill="#7e9b42"/><text x="896.9" y="331.2" font-family="Liberation Sans, sans-serif" font-size="10" fill="#333">series2</text><text x="896.9" y="349.3" font-family="Liberation Sans, sans-serif" font-size="10" fill="#333">series1</text><text x="896.9" y="367.3" font-family="Liberation Sans, sans-serif" font-size="10" fill="#333">Zero (&#160;&#160;)</text></g></svg>
<div style="left:784px;top:641px;width:202px;height:20px;border:1px solid #a3a3a3;background:#f0f0f0;"></div>
<div style="left:785.3px;top:642px;width:33.4px;height:18px;background:#b5b5b5;"></div>
<div style="left:818.7px;top:642px;width:49.3px;height:18px;background:#dcdcdc;"></div>
<span class="t" style="left:832.70px;top:645.69px;font-size:11px;color:#000;letter-spacing:-0.221px;">173 : 418 : 910 MB</span>
<svg style="left:969px;top:643px" width="14" height="16"><path d="M4.6 2 V0.9 H9.4 V2" fill="none" stroke="#3d8fc9" stroke-width="1.1"/><rect x="0.6" y="2" width="12.8" height="2" rx="0.6" fill="#3d8fc9"/><path d="M1.7 4.6 H12.3 L11.5 15 H2.5 Z" fill="#3d8fc9"/><path d="M4.4 6 V13.4 M7 6 V13.4 M9.6 6 V13.4" stroke="#eef5fb" stroke-width="1.1"/></svg>
<!-- Chart Options dialog -->
<div style="left:1.6px;top:1.6px;width:481px;height:660.4px;background:#8cc8f9;border:1px solid #5a94cb;box-shadow:0 0 3px rgba(0,0,0,.35);"></div>
<div style="left:9.2px;top:32.2px;width:466.4px;height:622px;background:#f0f0f0;border:1px solid #5f9bd2;"></div>
<svg style="left:12px;top:9px" width="17" height="17"><defs><linearGradient id="dbg" x1="0" x2="1"><stop offset="0" stop-color="#2f8fe6"/><stop offset="0.5" stop-color="#5db4f4"/><stop offset="1" stop-color="#1f7fd8"/></linearGradient></defs><path d="M0.4 2 V11 C0.4 13.1 11.2 13.1 11.2 11 V2 Z" fill="#f2f2f2"/><path d="M0.4 3.7 V9.3 C0.4 11 11.2 11 11.2 9.3 V3.7 C11.2 5.4 0.4 5.4 0.4 3.7 Z" fill="url(#dbg)"/><ellipse cx="5.8" cy="2" rx="5.4" ry="1.7" fill="#fafafa" stroke="#d5d5d5" stroke-width="0.4"/><circle cx="12.4" cy="3.4" r="2.3" fill="#4aa3ea"/><circle cx="12" cy="2.9" r="0.9" fill="#a9d7f8"/><rect x="5.8" y="7.4" width="9.8" height="8.4" fill="#8fd3f7" stroke="#bdbdbd" stroke-width="0.9"/><rect x="6.2" y="7.7" width="9" height="1.8" fill="#f3f3f3"/><path d="M6.2 11.6 H15.2 M6.2 13.7 H15.2 M9.2 9.6 V15.4 M12.3 9.6 V15.4" stroke="#c9ecfb" stroke-width="0.6"/></svg>
<span class="t" style="left:196.90px;top:10.16px;font-size:14.7px;color:#1a1a1a;">Chart Options</span>
<div style="left:445px;top:2.6px;width:31px;height:20.2px;background:#c75050;"></div>
<svg style="left:445px;top:3px" width="31" height="20"><path d="M12.3 7 L19.5 14.1 M19.5 7 L12.3 14.1" stroke="#fff" stroke-width="1.7" fill="none"/></svg>
<div style="left:20px;top:63px;width:445px;height:547.5px;border:1px solid #a2a2a2;"></div>
<div style="left:28px;top:45px;width:57px;height:19.4px;background:#e5e5e5;border:1px solid #a2a2a2;border-bottom:none;"></div>
<span class="t" style="left:32.60px;top:48.99px;font-size:11px;color:#000;letter-spacing:-0.427px;">General</span>
<span class="t" style="left:89.20px;top:48.99px;font-size:11px;color:#000;letter-spacing:-0.041px;">Script</span>
<div style="left:130px;top:47px;width:1px;height:14.6px;background:#a2a2a2;"></div>
<div style="left:32px;top:75px;width:63px;height:21.4px;background:#fff;border:1px solid #abadb3;overflow:hidden;"></div>
<div style="left:32px;top:75px;width:62px;height:21px;overflow:hidden;">
<span class="t" style="left:3.30px;top:6.19px;font-size:11px;color:#8a8a8a;letter-spacing:0.12px;">type filter text</span>
</div>
<svg style="left:98px;top:79px" width="17" height="15"><defs><linearGradient id="drv" x1="0" y1="0" x2="0" y2="1"><stop offset="0" stop-color="#fdfdfd"/><stop offset="1" stop-color="#c9c9c9"/></linearGradient></defs><rect x="1.3" y="5.4" width="13.2" height="6.2" rx="1.6" fill="url(#drv)" stroke="#7d7d7d" stroke-width="0.9"/><rect x="10" y="7.2" width="2.9" height="2.8" fill="#3fb52e"/><circle cx="4.7" cy="5.7" r="3.7" fill="#1da03a"/><path d="M4.7 3.5 V7.9 M2.5 5.7 H6.9" stroke="#fff" stroke-width="1.5"/></svg>
<svg style="left:120px;top:79px" width="17" height="15"><rect x="1.2" y="6.4" width="13.6" height="6.2" rx="1.6" fill="url(#drv)" stroke="#7d7d7d" stroke-width="0.9"/><rect x="10.2" y="8.4" width="2.8" height="2.6" fill="#3fb52e"/><circle cx="10.5" cy="4.3" r="3.6" fill="#ea7b7b" stroke="#dd4f4f" stroke-width="0.9"/><path d="M8.6 4.3 H12.4" stroke="#b42b2b" stroke-width="1.3"/></svg>
<svg style="left:143px;top:79px" width="15" height="15"><rect x="1.2" y="1.2" width="11.7" height="11.7" fill="#3b8ad0"/><rect x="1.2" y="1.2" width="11.7" height="6.6" fill="#8e8e8e"/><rect x="2.8" y="2.7" width="8.5" height="4.2" fill="#fff"/><rect x="3.2" y="9.1" width="7.7" height="3.8" fill="#fff"/><rect x="5.8" y="10.4" width="1.9" height="2.5" fill="#3b8ad0"/></svg>
<svg style="left:163px;top:77px" width="18" height="18"><path d="M5.6 3.6 H12.6 L15.7 6.8 V16.4 H5.6 Z" fill="#fff" stroke="#c89a5a" stroke-width="1"/><path d="M12.4 3.6 V7 H15.7" fill="none" stroke="#c89a5a" stroke-width="0.9"/><path d="M9.6 8 H14.2 M9.6 10 H14.2 M9.6 12 H14.2 M9.6 14 H14.2" stroke="#4a86c8" stroke-width="0.8"/><path d="M1.8 5.8 C3 10.2 6.2 10.6 8.4 10.4 V8.2 L12.2 11.6 L8.2 14.6 V12.6 C4.6 13 1.4 10.4 1.8 5.8 Z" fill="#4aa35a" stroke="#2f7f3c" stroke-width="0.6"/><rect x="1.2" y="1.3" width="8.6" height="4.2" fill="#fff" stroke="#666" stroke-width="0.9"/><path d="M3.2 3.5 H4.2 M5 3.5 H6 M6.8 3.5 H7.8" stroke="#555" stroke-width="1"/></svg>
<div style="left:32px;top:107px;width:151px;height:491.5px;background:#fff;border:1px solid #868b93;"></div>
<svg style="left:0;top:0" width="200" height="400" shape-rendering="crispEdges"><path d="M46.5 126 V293" stroke="#8a8a8a" stroke-width="1" stroke-dasharray="1 1"/><path d="M65.5 130 V280.5" stroke="#8a8a8a" stroke-width="1" stroke-dasharray="1 1"/><path d="M65.5 306 V360.5" stroke="#8a8a8a" stroke-width="1" stroke-dasharray="1 1"/><path d="M51 121.5 H57" stroke="#8a8a8a" stroke-width="1" stroke-dasharray="1 1"/><rect x="42.5" y="117.0" width="8" height="8" rx="1" fill="#f6f6f6" stroke="#8f949c" stroke-width="1"/><path d="M44.5 121.0 H48.5" stroke="#2a3f8f" stroke-width="1"/><path d="M66 136.5 H76" stroke="#8a8a8a" stroke-width="1" stroke-dasharray="1 1"/><path d="M66 152.5 H76" stroke="#8a8a8a" stroke-width="1" stroke-dasharray="1 1"/><path d="M66 168.5 H76" stroke="#8a8a8a" stroke-width="1" stroke-dasharray="1 1"/><path d="M66 184.5 H76" stroke="#8a8a8a" stroke-width="1" stroke-dasharray="1 1"/><path d="M66 200.5 H76" stroke="#8a8a8a" stroke-width="1" stroke-dasharray="1 1"/><path d="M66 216.5 H76" stroke="#8a8a8a" stroke-width="1" stroke-dasharray="1 1"/><path d="M66 232.5 H76" stroke="#8a8a8a" stroke-width="1" stroke-dasharray="1 1"/><path d="M66 248.5 H76" stroke="#8a8a8a" stroke-width="1" stroke-dasharray="1 1"/><path d="M66 264.5 H76" stroke="#8a8a8a" stroke-width="1" stroke-dasharray="1 1"/><path d="M66 280.5 H76" stroke="#8a8a8a" stroke-width="1" stroke-dasharray="1 1"/><path d="M51 297.5 H57" stroke="#8a8a8a" stroke-width="1" stroke-dasharray="1 1"/><rect x="42.5" y="293.0" width="8" height="8" rx="1" fill="#f6f6f6" stroke="#8f949c" stroke-width="1"/><path d="M44.5 297.0 H48.5" stroke="#2a3f8f" stroke-width="1"/><path d="M66 312.5 H76" stroke="#8a8a8a" stroke-width="1" stroke-dasharray="1 1"/><path d="M66 328.5 H76" stroke="#8a8a8a" stroke-width="1" stroke-dasharray="1 1"/><path d="M66 344.5 H76" stroke="#8a8a8a" stroke-width="1" stroke-dasharray="1 1"/><path d="M66 360.5 H76" stroke="#8a8a8a" stroke-width="1" stroke-dasharray="1 1"/></svg>
<div style="left:76px;top:353px;width:42px;height:16px;background:#3399ff;border:1px dotted #1b3f72;"></div>
<span class="t" style="left:57.00px;top:115.09px;font-size:11px;color:#000;letter-spacing:-0.351px;">Global Options</span>
<span class="t" style="left:76.40px;top:131.09px;font-size:11px;color:#000;letter-spacing:-0.493px;">General</span>
<span class="t" style="left:76.40px;top:147.09px;font-size:11px;color:#000;letter-spacing:-0.323px;">Format</span>
<span class="t" style="left:76.40px;top:163.09px;font-size:11px;color:#000;letter-spacing:-0.288px;">Title</span>
<span class="t" style="left:76.40px;top:179.09px;font-size:11px;color:#000;letter-spacing:-0.758px;">Axes</span>
<span class="t" style="left:76.40px;top:195.09px;font-size:11px;color:#000;letter-spacing:-0.863px;">Line</span>
<span class="t" style="left:76.40px;top:211.09px;font-size:11px;color:#000;letter-spacing:-0.427px;">Stacked</span>
<span class="t" style="left:76.40px;top:227.09px;font-size:11px;color:#000;letter-spacing:-1.348px;">Pie</span>
<span class="t" style="left:76.40px;top:243.09px;font-size:11px;color:#000;letter-spacing:-1.098px;">Map</span>
<span class="t" style="left:76.40px;top:259.09px;font-size:11px;color:#000;letter-spacing:-0.355px;">Data</span>
<span class="t" style="left:76.40px;top:275.09px;font-size:11px;color:#000;letter-spacing:-0.497px;">Legend</span>
<span class="t" style="left:57.00px;top:291.09px;font-size:11px;color:#000;letter-spacing:-0.305px;">Series Options</span>
<span class="t" style="left:76.40px;top:307.09px;font-size:11px;color:#000;letter-spacing:-0.475px;">All Series</span>
<span class="t" style="left:76.40px;top:323.09px;font-size:11px;color:#000;letter-spacing:-0.453px;">Series 0</span>
<span class="t" style="left:76.40px;top:339.09px;font-size:11px;color:#000;letter-spacing:-0.453px;">Series 1</span>
<span class="t" style="left:76.40px;top:355.09px;font-size:11px;color:#fff;letter-spacing:-0.453px;">Series 2</span>
<div style="left:187px;top:75px;width:266px;height:523.5px;border:1px solid #a2a2a2;border-left:1px solid #9a9a9a;border-top:1.3px solid #7a7a7a;box-shadow:inset 1px 0 0 #666;"></div>
<span class="t" style="left:198.60px;top:89.26px;font-size:16px;color:#000;font-weight:bold;transform-origin:0 0;transform:scaleX(1.083);">Series 2</span>
<div style="left:199px;top:117px;width:243.3px;height:407px;background:#fff;border:1px solid #9e9e9e;"></div>
<div style="left:200px;top:118px;width:16.5px;height:207px;background:#f0f0f0;"></div>
<div style="left:216.5px;top:118px;width:223.8px;height:15px;background:#e1e1e1;"></div>
<div style="left:204px;top:121px;width:9px;height:9px;background:#fafafa;border:1px solid #8f949c;border-radius:1px;"></div>
<div style="left:206px;top:125px;width:5px;height:1px;background:#2a3f8f;"></div>
<div style="left:216.5px;top:133px;width:223.8px;height:16px;background:#fff;border-top:1px solid #eeeeee;"></div>
<span class="t" style="left:216.70px;top:135.59px;font-size:11px;color:#000;letter-spacing:-0.564px;">Minimum Value</span>
<div style="left:216.5px;top:149px;width:223.8px;height:16px;background:#f9f9ec;border-top:1px solid #eeeeee;"></div>
<span class="t" style="left:216.70px;top:151.59px;font-size:11px;color:#000;letter-spacing:-0.57px;">Maximum Value</span>
<div style="left:216.5px;top:165px;width:223.8px;height:16px;background:#fff;border-top:1px solid #eeeeee;"></div>
<span class="t" style="left:216.70px;top:167.59px;font-size:11px;color:#000;letter-spacing:-0.538px;">Series Name</span>
<div style="left:216.5px;top:181px;width:223.8px;height:16px;background:#f9f9ec;border-top:1px solid #eeeeee;"></div>
<span class="t" style="left:216.70px;top:183.59px;font-size:11px;color:#000;letter-spacing:-0.338px;">Show Data Labels</span>
<div style="left:320px;top:183px;width:13px;height:13px;background:#fff;border:1px solid #6e6e6e;"></div>
<div style="left:216.5px;top:197px;width:223.8px;height:16px;background:#fff;border-top:1px solid #eeeeee;"></div>
<span class="t" style="left:216.70px;top:199.59px;font-size:11px;color:#000;letter-spacing:-0.391px;">Series Color</span>
<svg style="left:322px;top:200px" width="21" height="11" shape-rendering="crispEdges"><rect x="0.5" y="0.5" width="20" height="10" fill="#fff" stroke="#6e6e6e"/><rect x="5" y="1.0" width="4" height="4.5" fill="#c9c9c9"/><rect x="13" y="1.0" width="4" height="4.5" fill="#c9c9c9"/><rect x="1" y="5.5" width="4" height="4.5" fill="#c9c9c9"/><rect x="9" y="5.5" width="4" height="4.5" fill="#c9c9c9"/><rect x="17" y="5.5" width="4" height="4.5" fill="#c9c9c9"/></svg>
<div style="left:216.5px;top:213px;width:223.8px;height:16px;background:#f9f9ec;border-top:1px solid #eeeeee;"></div>
<span class="t" style="left:216.70px;top:215.59px;font-size:11px;color:#000;letter-spacing:-0.357px;">High Low Close Val...</span>
<div style="left:216.5px;top:229px;width:223.8px;height:16px;background:#fff;border-top:1px solid #eeeeee;"></div>
<span class="t" style="left:216.70px;top:231.59px;font-size:11px;color:#000;letter-spacing:-0.322px;">Bubble Value Type</span>
<div style="left:216.5px;top:245px;width:223.8px;height:16px;background:#f9f9ec;border-top:1px solid #eeeeee;"></div>
<span class="t" style="left:216.70px;top:247.59px;font-size:11px;color:#000;letter-spacing:-0.262px;">Candlestick Value ...</span>
<div style="left:216.5px;top:261px;width:223.8px;height:16px;background:#fff;border-top:1px solid #eeeeee;"></div>
<span class="t" style="left:216.70px;top:263.59px;font-size:11px;color:#000;letter-spacing:-0.393px;">Column Shape Type</span>
<span class="t" style="left:320.20px;top:263.59px;font-size:11px;color:#000;letter-spacing:-0.697px;">Cube</span>
<div style="left:216.5px;top:277px;width:223.8px;height:16px;background:#f9f9ec;border-top:1px solid #eeeeee;"></div>
<span class="t" style="left:216.70px;top:279.59px;font-size:11px;color:#000;letter-spacing:-0.284px;">Function</span>
<span class="t" style="left:320.20px;top:279.59px;font-size:11px;color:#000;letter-spacing:0.389px;">Zero ( )</span>
<div style="left:216.5px;top:293px;width:223.8px;height:16px;background:#fff;border-top:1px solid #eeeeee;"></div>
<span class="t" style="left:216.70px;top:295.59px;font-size:11px;color:#000;letter-spacing:-0.216px;">Function Parameters</span>
<div style="left:216.5px;top:309px;width:223.8px;height:16px;background:#f9f9ec;border-top:1px solid #eeeeee;"></div>
<span class="t" style="left:216.70px;top:311.59px;font-size:11px;color:#000;letter-spacing:-0.281px;">Show Function Me...</span>
<div style="left:320px;top:311px;width:13px;height:13px;background:#fff;border:1px solid #6e6e6e;"></div>
<svg style="left:320px;top:311px" width="13" height="13"><path d="M3 6.4 L5.4 9.2 L10 3.6" stroke="#111" stroke-width="1.9" fill="none"/></svg>
<div style="left:216.5px;top:325px;width:223.8px;height:1px;background:#eeeeee;"></div>
<div style="left:319px;top:133px;width:1px;height:192px;background:#ebebeb;"></div>
<div style="left:199px;top:528px;width:243.3px;height:60.2px;background:#f0f0f0;border:1px solid #9e9e9e;"></div>
<div style="left:310px;top:622px;width:73.3px;height:21px;background:linear-gradient(#f4f8fc,#e2edf8);border:1px solid #3c9bf0;"></div>
<span class="t" style="left:338.20px;top:627.23px;font-size:10.6px;color:#000;letter-spacing:-0.6px;">OK</span>
<div style="left:391px;top:622px;width:73.3px;height:21px;background:linear-gradient(#f2f2f2,#e3e3e3);border:1px solid #acacac;"></div>
<span class="t" style="left:410.50px;top:626.89px;font-size:11px;color:#000;letter-spacing:-0.613px;">Cancel</span>
<svg style="left:0;top:0" width="300" height="560"><defs><linearGradient id="cp" gradientUnits="userSpaceOnUse" x1="74" y1="420" x2="99" y2="424"><stop offset="0" stop-color="#4ea3fb"/><stop offset="0.5" stop-color="#a3cffd"/><stop offset="1" stop-color="#6cb3fc"/></linearGradient><filter id="cb" x="-20%" y="-20%" width="140%" height="140%"><feGaussianBlur stdDeviation="5.4"/></filter><filter id="cb2" x="-20%" y="-20%" width="140%" height="140%"><feGaussianBlur stdDeviation="1.3"/></filter><clipPath id="cc"><path d="M55.3 438.6 H71.6 L100.2 371.5 L95.4 438.6 H214 a6.6 6.6 0 0 1 6.6 6.6 V507 a6.6 6.6 0 0 1 -6.6 6.6 H55.3 a6.6 6.6 0 0 1 -6.6 -6.6 V445.2 a6.6 6.6 0 0 1 6.6 -6.6 Z"/></clipPath></defs><path d="M55.3 438.6 H71.6 L100.2 371.5 L95.4 438.6 H214 a6.6 6.6 0 0 1 6.6 6.6 V507 a6.6 6.6 0 0 1 -6.6 6.6 H55.3 a6.6 6.6 0 0 1 -6.6 -6.6 V445.2 a6.6 6.6 0 0 1 6.6 -6.6 Z" fill="#ffffff"/><g clip-path="url(#cc)"><path d="M71.6 440 L100.2 371.5 L95.4 440 Z" fill="url(#cp)"/><path d="M55.3 438.6 H214 a6.6 6.6 0 0 1 6.6 6.6 V507 a6.6 6.6 0 0 1 -6.6 6.6 H55.3 a6.6 6.6 0 0 1 -6.6 -6.6 V445.2 a6.6 6.6 0 0 1 6.6 -6.6 Z" fill="none" stroke="#3896fb" stroke-width="12.5" filter="url(#cb)"/><path d="M55.3 438.6 H214 a6.6 6.6 0 0 1 6.6 6.6 V507 a6.6 6.6 0 0 1 -6.6 6.6 H55.3 a6.6 6.6 0 0 1 -6.6 -6.6 V445.2 a6.6 6.6 0 0 1 6.6 -6.6 Z" fill="none" stroke="#3595fb" stroke-width="2.6" filter="url(#cb2)"/><path d="M71.6 438.6 L100.2 371.5 L95.4 438.6" fill="none" stroke="#3595fb" stroke-width="2.2" filter="url(#cb2)"/></g><path d="M55.3 438.6 H71.6 L100.2 371.5 L95.4 438.6 H214 a6.6 6.6 0 0 1 6.6 6.6 V507 a6.6 6.6 0 0 1 -6.6 6.6 H55.3 a6.6 6.6 0 0 1 -6.6 -6.6 V445.2 a6.6 6.6 0 0 1 6.6 -6.6 Z" fill="none" stroke="#1887fb" stroke-width="1.3"/></svg>
<span class="t" style="left:48px;width:173px;text-align:center;top:450.25px;font-size:14px;font-weight:bold;color:#0c0c0c;letter-spacing:0.328px;text-indent:0.328px;">locate the new</span>
<span class="t" style="left:48px;width:173px;text-align:center;top:469.15px;font-size:14px;font-weight:bold;color:#0c0c0c;letter-spacing:0.084px;text-indent:0.084px;">Function Series at the</span>
<span class="t" style="left:48px;width:173px;text-align:center;top:488.05px;font-size:14px;font-weight:bold;color:#0c0c0c;letter-spacing:0.521px;text-indent:0.521px;">bottom of the list</span>
</body></html>
